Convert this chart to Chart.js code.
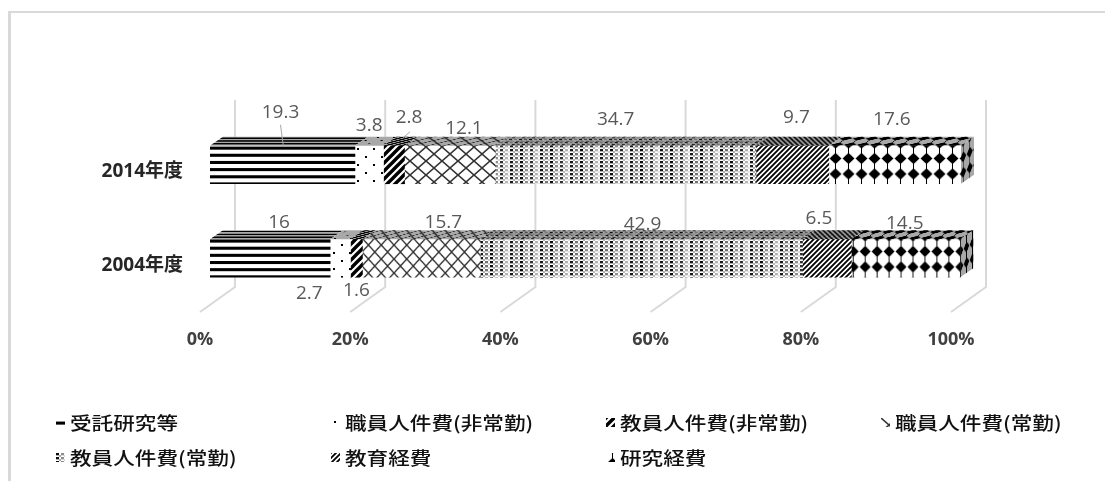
<!DOCTYPE html>
<html>
<head>
<meta charset="utf-8">
<script src="https://cdn.jsdelivr.net/npm/chart.js@4"></script>
<style>
  body { margin: 0; background: #fff; }
  #wrap { position: relative; width: 1105px; height: 481px; overflow: hidden; }
  #frame { position: absolute; left: 8px; top: 11px; width: 1200px; height: 600px; border: 2px solid #d9d9d9; border-left-width: 3px; box-sizing: border-box; }
  canvas { position: absolute; left: 0; top: 0; }
  .lg { position: absolute; display: flex; align-items: center; height: 24px; font: 500 18px "Noto Sans CJK JP"; color: #111; white-space: nowrap; }
  .lg canvas { position: static; margin-right: 5px; }
  .lg span { display: inline-block; transform: scaleX(1.2); transform-origin: left center; }
</style>
</head>
<body>
<div id="wrap">
  <div id="frame"></div>
  <canvas id="chart" width="1105" height="481"></canvas>
</div>
<script>
const categories = ['2014年度', '2004年度'];
const seriesNames = ['受託研究等', '職員人件費(非常勤)', '教員人件費(非常勤)', '職員人件費(常勤)', '教員人件費(常勤)', '教育経費', '研究経費'];
const jutaku = [19.3, 16];
const shokuinHijo = [3.8, 2.7];
const kyoinHijo = [2.8, 1.6];
const shokuinJo = [12.1, 15.7];
const kyoinJo = [34.7, 42.9];
const kyoiku = [9.7, 6.5];
const kenkyu = [17.6, 14.5];
const tickLabels = ['0%', '20%', '40%', '60%', '80%', '100%'];

// where the value labels sit relative to the middle of their segment
const labelShift = [
  [[-2, -52], [0, -39], [15, -47], [14, -36], [-10, -45], [4, -47], [-3, -45]],
  [[9, -36], [-31, 35], [0, 32], [22, -36], [1, -34], [-8, -40], [-1, -35]]
];

const depthX = 13, depthY = 9;
const barShiftX = 10, barShiftY = -7;

function diag(g, w, h, lw) {
  g.lineWidth = lw;
  g.beginPath();
  g.moveTo(-w, h); g.lineTo(w, -h);
  g.moveTo(0, 2 * h); g.lineTo(2 * w, 0);
  g.moveTo(0, h); g.lineTo(w, 0);
  g.stroke();
}

// one tile per series; sx = horizontal stretch for [2014, 2004], sy/dy = vertical fit to the bar
const tiles = [
  { w: 8, h: 7, sy: 1.021, dy: 2.5, draw: g => g.fillRect(0, 1, 8, 3) },
  { w: 16, h: 16, draw: g => { g.fillRect(3, 3, 2, 2); g.fillRect(11, 11, 2, 2); } },
  { w: 8, h: 8, draw: g => diag(g, 8, 8, 3.4) },
  { w: 16, h: 14, sx: [1, 0.8], draw: g => {
    g.strokeStyle = '#333';
    g.lineWidth = 1.6;
    g.beginPath();
    g.moveTo(0, 0); g.lineTo(16, 14);
    g.moveTo(16, 0); g.lineTo(0, 14);
    g.stroke();
  } },
  { w: 30, h: 4, draw: g => {
    const shades = [.95, .45, .8, .3, .9, .55];
    shades.forEach((a, c) => {
      g.globalAlpha = a;
      g.fillRect(c * 5, 0, 3, 2);
      g.globalAlpha = a * 0.35;
      g.fillRect(c * 5 + 3, 2, 2, 2);
      g.fillRect(c * 5, 2, 3, 1);
    });
  } },
  { w: 5, h: 5, draw: g => diag(g, 5, 5, 1.8) },
  { w: 13, h: 15, sy: 1.033, dy: 2.75, sx: [1, 0.92], draw: g => {
    g.fillRect(6, 0, 1, 15);
    g.beginPath();
    g.moveTo(6.5, 2); g.lineTo(12.5, 7.5); g.lineTo(6.5, 13); g.lineTo(0.5, 7.5);
    g.fill();
  } }
];

function makePattern(i, j) {
  const t = tiles[i];
  const c = document.createElement('canvas');
  c.width = t.w; c.height = t.h;
  const g = c.getContext('2d');
  g.fillStyle = '#fff';
  g.fillRect(0, 0, t.w, t.h);
  g.fillStyle = '#000';
  g.strokeStyle = '#000';
  t.draw(g);
  const p = g.createPattern(c, 'repeat');
  const sx = t.sx ? t.sx[j] : 1;
  p.setTransform(new DOMMatrix().translate(0, t.dy || 0).scale(sx, t.sy || 1));
  return p;
}

const patterns = tiles.map((t, i) => categories.map((c, j) => makePattern(i, j)));

function shadeFace(ctx, pattern) {
  ctx.fillStyle = pattern;
  ctx.fillRect(-3000, -3000, 8000, 8000);
  ctx.globalCompositeOperation = 'multiply';
  ctx.fillStyle = '#a8a8a8';
  ctx.fillRect(-3000, -3000, 8000, 8000);
}

// grid of the 3D plot: back wall and floor
const wallPlugin = {
  id: 'wall',
  beforeDatasetsDraw(chart) {
    const { ctx, scales: { x }, chartArea } = chart;
    ctx.save();
    ctx.strokeStyle = '#d9d9d9';
    ctx.lineWidth = 2;
    tickLabels.forEach((t, i) => {
      const px = x.getPixelForValue(i * 20);
      ctx.beginPath();
      ctx.moveTo(px + 35, 100);
      ctx.lineTo(px + 35, chartArea.bottom - 25);
      ctx.lineTo(px, chartArea.bottom);
      ctx.stroke();
    });
    ctx.translate(barShiftX, barShiftY);
  },
  afterDatasetsDraw(chart) {
    const { ctx } = chart;
    chart.data.datasets.forEach((ds, i) => {
      chart.getDatasetMeta(i).data.forEach((bar, j) => {
        const top = bar.y - bar.height / 2;
        const bottom = bar.y + bar.height / 2;
        ctx.save();
        ctx.beginPath();
        ctx.moveTo(bar.base, top);
        ctx.lineTo(bar.base + depthX, top - depthY);
        ctx.lineTo(bar.x + depthX, top - depthY);
        ctx.lineTo(bar.x, top);
        ctx.closePath();
        ctx.clip();
        // the tile is sheared and squeezed onto the top face
        ctx.transform(1, 0, -depthX / depthY * 0.4, 0.4, top * depthX / depthY * 0.4, top * 0.6);
        shadeFace(ctx, patterns[i][j]);
        ctx.restore();
        if (i === chart.data.datasets.length - 1) {
          ctx.save();
          ctx.beginPath();
          ctx.moveTo(bar.x, top);
          ctx.lineTo(bar.x + depthX, top - depthY);
          ctx.lineTo(bar.x + depthX, bottom - depthY);
          ctx.lineTo(bar.x, bottom);
          ctx.closePath();
          ctx.clip();
          ctx.transform(0.5, -depthY / depthX * 0.5, 0, 1, bar.x * 0.5, bar.x * depthY / depthX * 0.5);
          shadeFace(ctx, patterns[i][j]);
          ctx.restore();
        }
      });
    });
    ctx.restore();
  }
};

const valueLabels = {
  id: 'valueLabels',
  afterDraw(chart) {
    const { ctx } = chart;
    ctx.save();
    ctx.font = '19px "Open Sans"';
    ctx.fillStyle = '#595959';
    ctx.textAlign = 'center';
    ctx.textBaseline = 'middle';
    chart.data.datasets.forEach((ds, i) => {
      chart.getDatasetMeta(i).data.forEach((bar, j) => {
        const [dx, dy] = labelShift[j][i];
        const cx = (bar.x + bar.base) / 2 + barShiftX;
        const cy = bar.y + barShiftY;
        ctx.fillText(String(ds.data[j]), cx + dx, cy + dy);
      });
    });
    // leader lines of the 2014 labels
    const first = chart.getDatasetMeta(0).data[0];
    const third = chart.getDatasetMeta(2).data[0];
    const topY = first.y + barShiftY - first.height / 2;
    ctx.strokeStyle = '#a6a6a6';
    ctx.lineWidth = 1;
    ctx.beginPath();
    const c0 = (first.x + first.base) / 2 + barShiftX;
    ctx.moveTo(c0 - 2, topY - 21); ctx.lineTo(c0 + 1, topY + 1);
    const c2 = (third.x + third.base) / 2 + barShiftX;
    ctx.moveTo(c2 + 16, topY - 14); ctx.lineTo(c2 + 9, topY - 8);
    ctx.stroke();
    ctx.restore();
  }
};

const seriesValues = [jutaku, shokuinHijo, kyoinHijo, shokuinJo, kyoinJo, kyoiku, kenkyu];

new Chart(document.getElementById('chart'), {
  type: 'bar',
  data: {
    labels: categories,
    datasets: seriesNames.map((name, i) => ({
      label: name,
      data: seriesValues[i],
      backgroundColor: patterns[i],
      borderWidth: 0,
      barThickness: 38
    }))
  },
  options: {
    indexAxis: 'y',
    responsive: false,
    animation: false,
    layout: { padding: { top: 125, right: 154, bottom: 130, left: 0 } },
    plugins: { legend: { display: false }, tooltip: { enabled: false } },
    scales: {
      x: {
        stacked: true,
        min: 0,
        max: 100,
        grid: { display: false },
        border: { display: false },
        afterFit: s => { s.height = 39; },
        ticks: {
          stepSize: 20,
          maxRotation: 0,
          padding: 9,
          color: '#404040',
          font: { family: 'Open Sans', size: 18, weight: 'bold' },
          callback: (v) => tickLabels[v / 20]
        }
      },
      y: {
        stacked: true,
        grid: { display: false },
        border: { display: false },
        afterFit: s => { s.width = 200; },
        ticks: {
          padding: 9,
          color: '#262626',
          font: { family: '"Open Sans", "Noto Sans CJK JP"', size: 19, weight: 'bold' }
        }
      }
    }
  },
  plugins: [wallPlugin, valueLabels]
});

// legend is laid out in fixed columns like the original, so it is plain html
const legendSlots = [[56, 410], [331, 410], [606, 410], [881, 410], [56, 445], [331, 445], [606, 445]];
seriesNames.forEach((name, i) => {
  const item = document.createElement('div');
  item.className = 'lg';
  item.style.left = legendSlots[i][0] + 'px';
  item.style.top = legendSlots[i][1] + 'px';
  const key = document.createElement('canvas');
  key.width = 9; key.height = 9;
  const k = key.getContext('2d');
  k.fillStyle = patterns[i][0];
  k.fillRect(0, 0, 9, 9);
  const text = document.createElement('span');
  text.textContent = name;
  item.append(key, text);
  document.getElementById('wrap').append(item);
});
</script>
</body>
</html>
